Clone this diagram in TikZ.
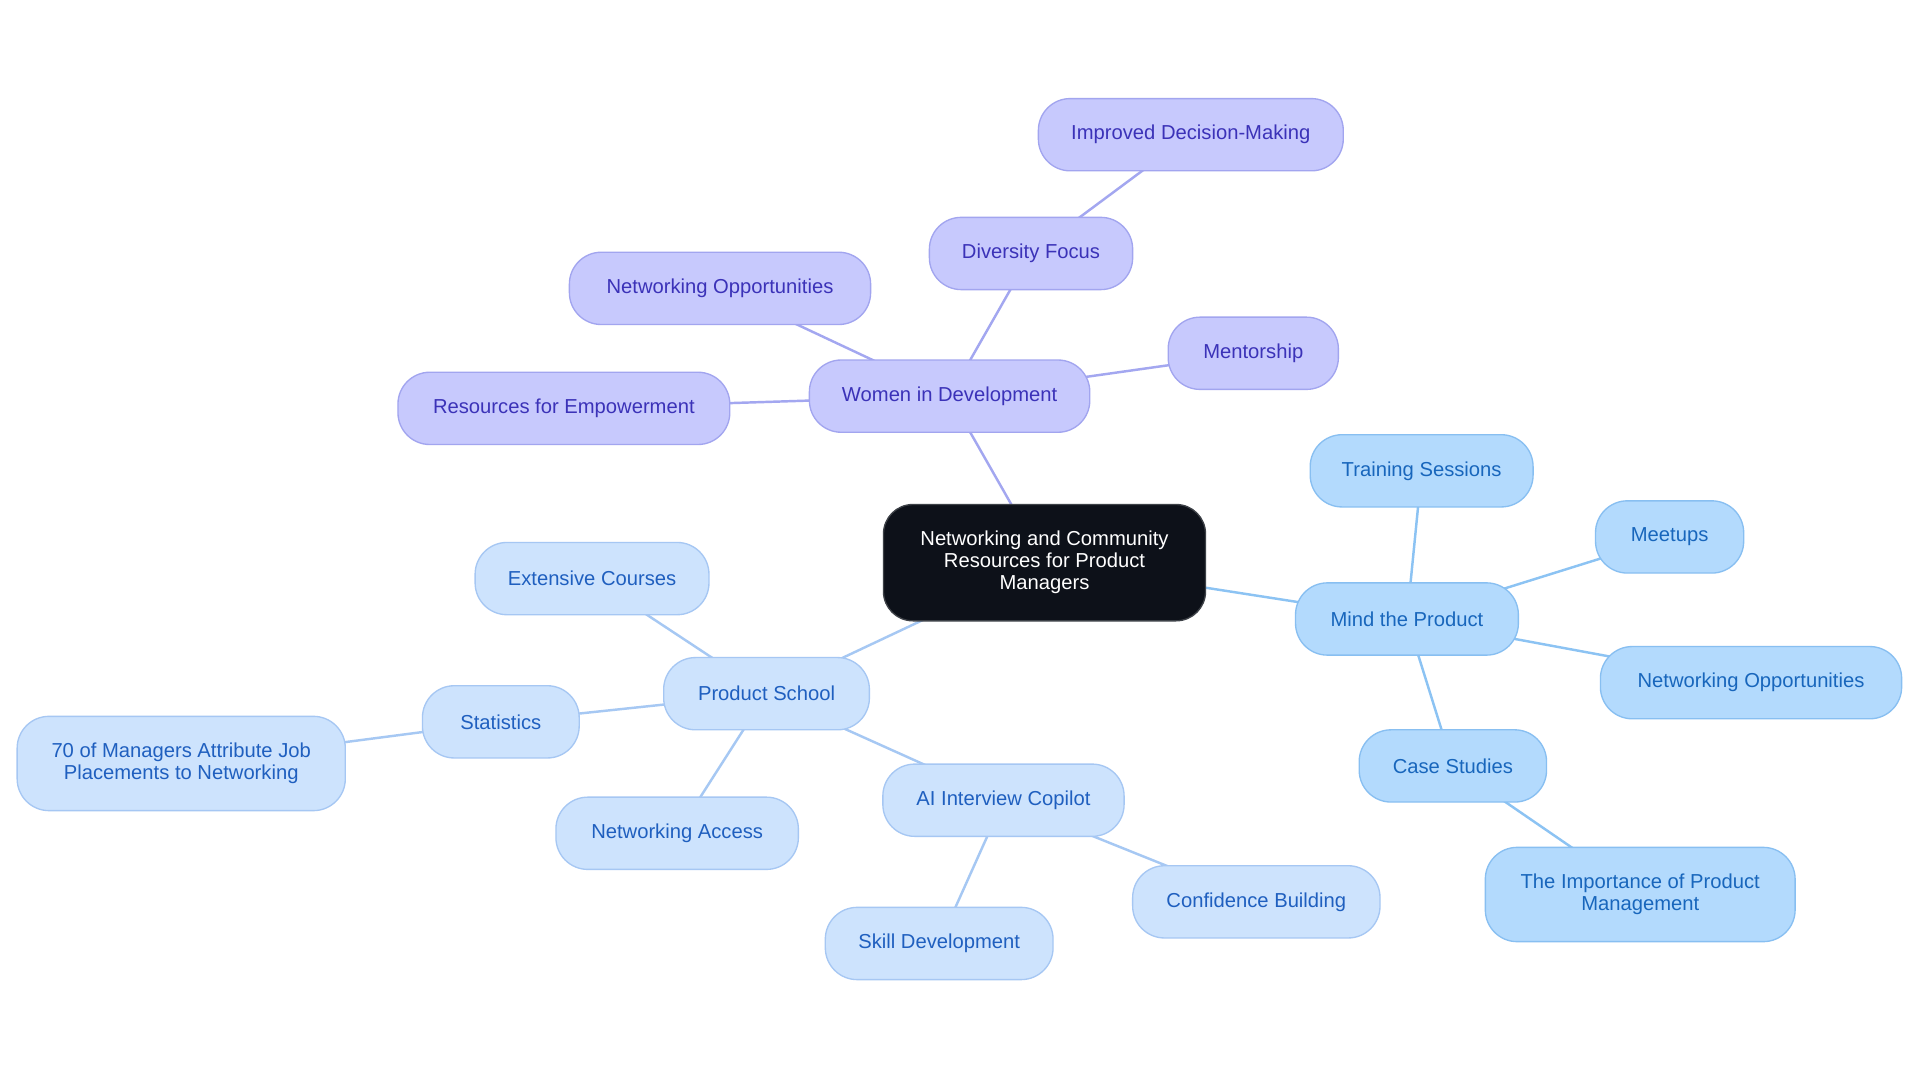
\documentclass[tikz,border=0pt]{standalone}
\usepackage{fontspec}
\setmainfont{Liberation Sans}
\usetikzlibrary{backgrounds}
\definecolor{pfill}{HTML}{C7C9FD}
\definecolor{pdraw}{HTML}{A2A5EF}
\definecolor{ptext}{HTML}{3B32B8}
\definecolor{pline}{HTML}{A3A7F0}
\definecolor{mfill}{HTML}{B3DAFD}
\definecolor{mdraw}{HTML}{88BFF1}
\definecolor{mtext}{HTML}{1866BC}
\definecolor{mline}{HTML}{8CC3F3}
\definecolor{sfill}{HTML}{CDE3FD}
\definecolor{sdraw}{HTML}{A6C7F3}
\definecolor{stext}{HTML}{1F5FBF}
\definecolor{sline}{HTML}{A6C8F3}
\definecolor{cfill}{HTML}{0D1119}
\tikzset{
  x=1pt, y=-1pt,
  box/.style={rectangle, rounded corners=26pt, minimum height=59pt, inner sep=0pt, align=center,
    font=\fontsize{16.5}{18}\selectfont, line width=1.1pt},
  pbox/.style={box, fill=pfill, draw=pdraw, text=ptext},
  mbox/.style={box, fill=mfill, draw=mdraw, text=mtext},
  sbox/.style={box, fill=sfill, draw=sdraw, text=stext},
  cbox/.style={box, rounded corners=24pt, fill=cfill, draw=cfill!80!white, text=white, minimum height=95pt},
  pedge/.style={draw=pline, line width=2pt},
  medge/.style={draw=mline, line width=2pt},
  sedge/.style={draw=sline, line width=2pt},
}
\begin{document}
\begin{tikzpicture}
\useasboundingbox (0,0) rectangle (1568,884.5);
\node[cbox, minimum width=263pt] (c) at (853,459.5) {Networking and Community\\Resources for Product\\Managers};
% Women in Development branch
\node[pbox, minimum width=229pt] (w) at (775.5,323.5) {Women in Development};
\node[pbox, minimum width=271pt] (wr) at (460.5,333.5) {Resources for Empowerment};
\node[pbox, minimum width=246pt] (wn) at (588,235.5) {Networking Opportunities};
\node[pbox, minimum width=166pt] (wd) at (842,207) {Diversity Focus};
\node[pbox, minimum width=249pt] (wi) at (972.5,110) {Improved Decision-Making};
\node[pbox, minimum width=139pt] (wm) at (1023.5,288.5) {Mentorship};
% Mind the Product branch
\node[mbox, minimum width=182pt] (m) at (1149,505.5) {Mind the Product};
\node[mbox, minimum width=182pt] (mt) at (1161,384.5) {Training Sessions};
\node[mbox, minimum width=121pt] (mm) at (1363.5,438.5) {Meetups};
\node[mbox, minimum width=246pt] (mn) at (1430,557.5) {Networking Opportunities};
\node[mbox, minimum width=153pt] (mc) at (1186.5,625.5) {Case Studies};
\node[mbox, minimum width=253pt, minimum height=77pt] (mi) at (1339.5,730.5) {The Importance of Product\\Management};
% Product School branch
\node[sbox, minimum width=168pt] (s) at (626,566.5) {Product School};
\node[sbox, minimum width=191pt] (se) at (483.5,472.5) {Extensive Courses};
\node[sbox, minimum width=128pt] (ss) at (409,589.5) {Statistics};
\node[sbox, minimum width=268pt, minimum height=77pt] (s70) at (148,623.5) {70 of Managers Attribute Job\\Placements to Networking};
\node[sbox, minimum width=198pt] (sn) at (553,680.5) {Networking Access};
\node[sbox, minimum width=197pt] (sa) at (819.5,653.5) {AI Interview Copilot};
\node[sbox, minimum width=186pt] (sk) at (767,770.5) {Skill Development};
\node[sbox, minimum width=202pt] (sc) at (1026,736.5) {Confidence Building};
\begin{scope}[on background layer]
\fill[white] (0,0) rectangle (1568,884.5);
\draw[pedge] (c.center) -- (w.center);
\draw[pedge] (w.center) -- (wr.center);
\draw[pedge] (w.center) -- (wn.center);
\draw[pedge] (w.center) -- (wd.center);
\draw[pedge] (wd.center) -- (wi.center);
\draw[pedge] (w.center) -- (wm.center);
\draw[medge] (c.center) -- (m.center);
\draw[medge] (m.center) -- (mt.center);
\draw[medge] (m.center) -- (mm.center);
\draw[medge] (m.center) -- (mn.center);
\draw[medge] (m.center) -- (mc.center);
\draw[medge] (mc.center) -- (mi.center);
\draw[sedge] (c.center) -- (s.center);
\draw[sedge] (s.center) -- (se.center);
\draw[sedge] (s.center) -- (ss.center);
\draw[sedge] (ss.center) -- (s70.center);
\draw[sedge] (s.center) -- (sn.center);
\draw[sedge] (s.center) -- (sa.center);
\draw[sedge] (sa.center) -- (sk.center);
\draw[sedge] (sa.center) -- (sc.center);
\end{scope}
\end{tikzpicture}
\end{document}
